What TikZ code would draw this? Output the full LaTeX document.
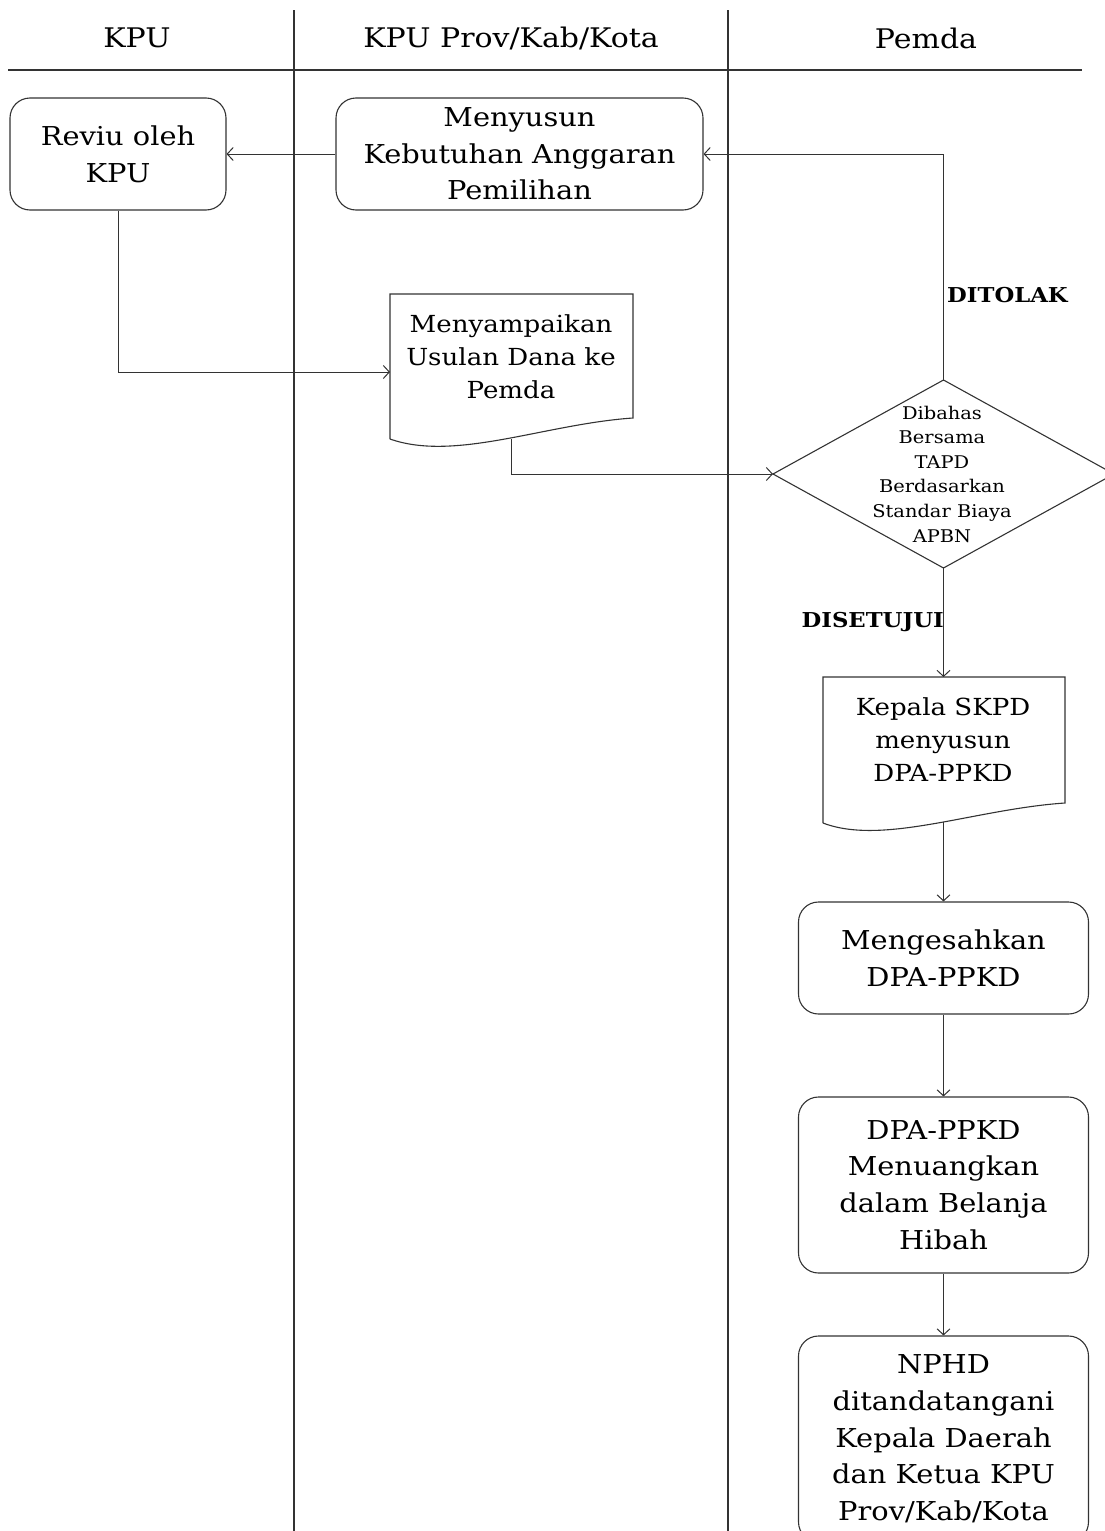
\documentclass[tikz,border=0pt]{standalone}
\usepackage{fontspec}
\setmainfont{DejaVu Serif}[FakeStretch=1.11]
\usetikzlibrary{arrows.meta}
\newcommand{\boxfont}{\fontsize{26}{36.7}\selectfont}
\newcommand{\docfont}{\fontsize{23.5}{33}\selectfont}
\newcommand{\diafont}{\fontsize{17.5}{24.6}\selectfont}
\newcommand{\headfont}{\fontsize{27}{30}\selectfont}
\newcommand{\lblfont}{\fontsize{20.5}{22}\selectfont\bfseries}
\tikzset{
  lane/.style={line width=1.1pt, draw=black!80},
  pbox/.style={draw=black!80, line width=1.1pt, rounded corners=20pt, align=center, font=\boxfont, inner sep=0pt},
  doctext/.style={align=center, font=\docfont, inner sep=0pt},
  docline/.style={draw=black!80, line width=1.1pt},
  arr/.style={draw=black!80, line width=1pt, -{Straight Barb[length=6pt,width=13pt]}},
  lbl/.style={font=\lblfont, inner sep=0pt},
}
\begin{document}
\begin{tikzpicture}[x=1pt,y=-1pt]
\useasboundingbox (0,0) rectangle (1105,1531);
% swimlanes
\draw[lane] (294,10) -- (294,1531);
\draw[lane] (728,10) -- (728,1531);
\draw[lane] (8,70) -- (1082,70);
\node[font=\headfont] (hkpu) at (137,38) {KPU};
\node[font=\headfont] (hprov) at (511,38) {KPU Prov/Kab/Kota};
\node[font=\headfont] (hpemda) at (926,38) {Pemda};
% process boxes
\node[pbox, minimum width=216pt, minimum height=112pt] (reviu) at (118,154) {Reviu oleh\\KPU};
\node[pbox, minimum width=367pt, minimum height=112pt] (menyusun) at (519.5,154) {Menyusun\\Kebutuhan Anggaran\\Pemilihan};
% document 1
\draw[docline] (390,439) -- (390,294) -- (633,294) -- (633,418)
  .. controls (545,424) and (455,462) .. (390,439);
\node[doctext] (usulan) at (511,357) {Menyampaikan\\Usulan Dana ke\\Pemda};
\coordinate (usulanW) at (390,372);
\coordinate (usulanS) at (511,439);
% decision
\coordinate (diaW) at (773,474);
\coordinate (diaN) at (943.5,380);
\coordinate (diaE) at (1114,474);
\coordinate (diaS) at (943.5,568);
\draw[docline] (diaW) -- (diaN) -- (diaE) -- (diaS) -- cycle;
\node[align=center, font=\diafont, inner sep=0pt] (dibahas) at (942,474) {Dibahas\\Bersama\\TAPD\\Berdasarkan\\Standar Biaya\\APBN};
% document 2
\draw[docline] (823,823) -- (823,677) -- (1065,677) -- (1065,803)
  .. controls (975,809) and (883,846) .. (823,823);
\node[doctext] (kepala) at (943,740) {Kepala SKPD\\menyusun\\DPA-PPKD};
\coordinate (kepalaN) at (943.5,677);
\coordinate (kepalaS) at (943.5,822);
% remaining boxes
\node[pbox, minimum width=290pt, minimum height=112pt] (sah) at (943.5,958) {Mengesahkan\\DPA-PPKD};
\node[pbox, minimum width=290pt, minimum height=176pt] (dpa) at (943.5,1185) {DPA-PPKD\\Menuangkan\\dalam Belanja\\Hibah};
\node[pbox, minimum width=290pt, minimum height=206pt] (nphd) at (943.5,1439) {NPHD\\ditandatangani\\Kepala Daerah\\dan Ketua KPU\\Prov/Kab/Kota};
% connectors
\draw[arr] (menyusun.west) -- (reviu.east);
\draw[arr] (reviu.south) |- (usulanW);
\draw[arr] (usulanS) |- (diaW);
\draw[arr] (diaN) |- (menyusun.east);
\node[lbl, anchor=west] (ditolak) at (947,295) {DITOLAK};
\draw[arr] (diaS) -- (kepalaN);
\node[lbl, anchor=east] (disetujui) at (944,622) {DISETUJUI};
\draw[arr] (kepalaS) -- (sah.north);
\draw[arr] (sah.south) -- (dpa.north);
\draw[arr] (dpa.south) -- (nphd.north);
\end{tikzpicture}
\end{document}
